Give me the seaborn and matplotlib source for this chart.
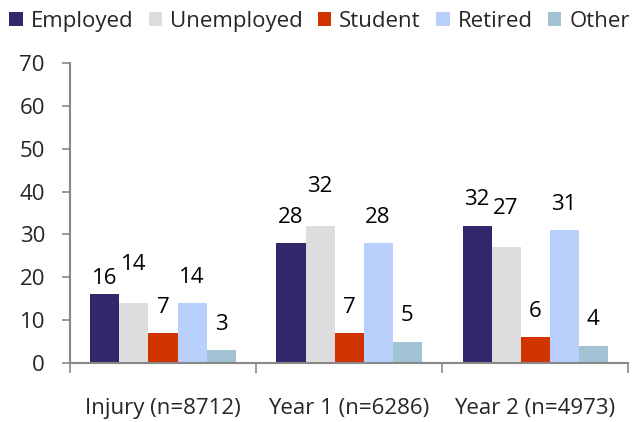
import pandas as pd
import matplotlib.pyplot as plt
import seaborn as sns
from matplotlib.patches import Patch

periods = ["Injury (n=8712)", "Year 1 (n=6286)", "Year 2 (n=4973)"]
statuses = ["Employed", "Unemployed", "Student", "Retired", "Other"]
employed = [16, 28, 32]
unemployed = [14, 32, 27]
student = [7, 7, 6]
retired = [14, 28, 31]
other = [3, 5, 4]

colors = ["#31276B", "#DDDDDD", "#D03500", "#B8D0FB", "#A1C3D3"]

rows = []
for status, vals in zip(statuses, [employed, unemployed, student, retired, other]):
    for period, v in zip(periods, vals):
        rows.append({"period": period, "status": status, "value": v})
df = pd.DataFrame(rows)

sns.set_theme(style="white")
plt.rcParams["font.family"] = ["Open Sans", "DejaVu Sans"]
fs = 16

fig = plt.figure(figsize=(6.39, 4.22), dpi=100)
ax = fig.add_axes([0.1095, 0.1398, 0.8735, 0.7109])

sns.barplot(data=df, x="period", y="value", hue="status", hue_order=statuses,
            order=periods, palette=colors, saturation=1, width=0.78,
            linewidth=0, ax=ax)
ax.get_legend().remove()

# value labels (Excel nudged a few of them)
base_gap = 26
extra = {"Unemployed": 13}
for status, cont in zip(statuses, ax.containers):
    for i, bar in enumerate(cont):
        dy = base_gap + extra.get(status, 0)
        if status == "Employed" and i == 0:
            dy = 16
        ax.annotate(f"{bar.get_height():.0f}",
                    (bar.get_x() + bar.get_width() / 2, bar.get_height()),
                    xytext=(0, dy), textcoords="offset pixels",
                    ha="center", va="center", fontsize=fs, color="black")

ax.set_ylim(0, 70)
ax.set_yticks(range(0, 71, 10))
ax.set_xlim(-0.5, 2.5)
ax.set_xticks([0, 1, 2])
ax.set_xticklabels(periods)
ax.set_xticks([-0.5, 0.5, 1.5, 2.5], minor=True)
ax.set_xlabel("")
ax.set_ylabel("")

for s in ["top", "right"]:
    ax.spines[s].set_visible(False)
for s in ["left", "bottom"]:
    ax.spines[s].set_color("#888888")
    ax.spines[s].set_linewidth(1.5)

ax.tick_params(axis="y", which="major", length=6, width=1.2, color="#888888",
               direction="out", labelsize=fs, pad=12, left=True)
ax.tick_params(axis="x", which="major", length=0, labelsize=fs, pad=25)
ax.tick_params(axis="x", which="minor", length=7, width=1.2, color="#888888",
               direction="out", bottom=True)

handles = [Patch(facecolor=c, edgecolor="none") for c in colors]
fig.legend(handles, statuses, loc="upper center", bbox_to_anchor=(0.5, 1.0),
           ncol=5, frameon=False, fontsize=fs, handlelength=0.6,
           handleheight=0.6, handletextpad=0.35, columnspacing=0.7,
           borderaxespad=0.1)

plt.savefig("out.png", dpi=100)
